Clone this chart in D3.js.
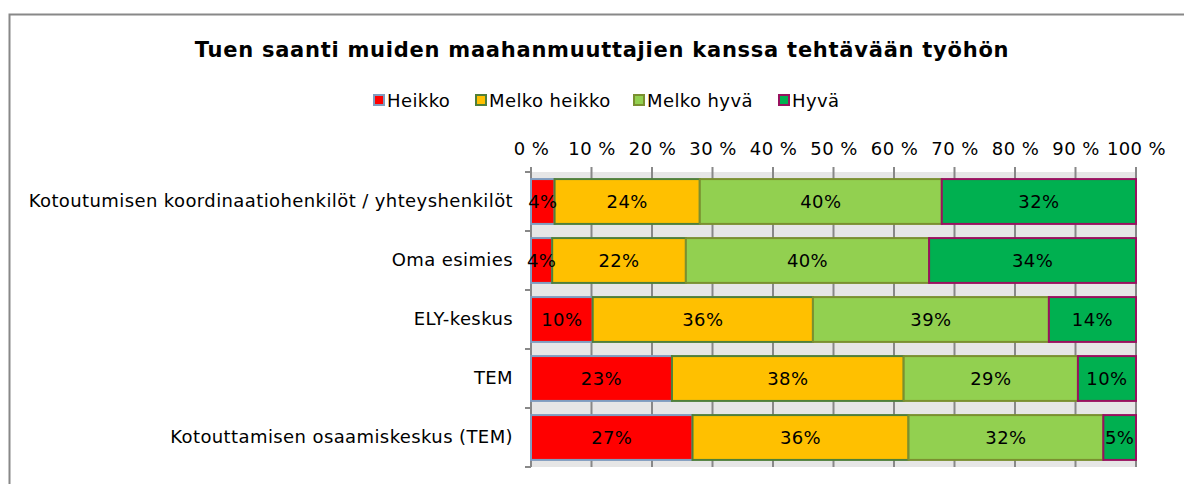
<!DOCTYPE html>
<html>
<head>
<meta charset="utf-8">
<script src="https://cdn.jsdelivr.net/npm/d3@7"></script>
<style>
  body { margin: 0; background: #fff; }
  text { font-family: "DejaVu Sans", Verdana, sans-serif; letter-spacing: 0.4px; }
</style>
</head>
<body>
<svg id="chart"></svg>
<script>
// Data
const categories = [
  "Kotoutumisen koordinaatiohenkilöt / yhteyshenkilöt",
  "Oma esimies",
  "ELY-keskus",
  "TEM",
  "Kotouttamisen osaamiskeskus (TEM)"
];
const seriesNames = ["Heikko", "Melko heikko", "Melko hyvä", "Hyvä"];
const heikko      = [3.9, 3.5, 10.2, 23.3, 26.7];
const melkoHeikko = [24.0, 22.1, 36.4, 38.3, 35.7];
const melkoHyva   = [40.0, 40.2, 39.0, 28.8, 32.2];
const hyva        = [32.1, 34.2, 14.4, 9.6, 5.4];
const xTicks = [0, 10, 20, 30, 40, 50, 60, 70, 80, 90, 100];

const fills   = ["#ff0000", "#ffc000", "#92d050", "#00b050"];
const strokes = ["#7f9cbf", "#4f7f3a", "#7a9030", "#99115f"];

const W = 1184, H = 484;
const margin = { top: 172, right: 48, bottom: 17, left: 531 };
const width = W - margin.left - margin.right;
const height = H - margin.top - margin.bottom;
const fs = 18;

const svg = d3.select("#chart").attr("width", W).attr("height", H);

// outer frame
svg.append("path")
  .attr("d", `M9.5,${H} V14.5 H${W}`)
  .attr("fill", "none")
  .attr("stroke", "#888")
  .attr("stroke-width", 2);

svg.append("text")
  .attr("x", 602).attr("y", 57)
  .attr("text-anchor", "middle")
  .attr("font-size", 21).attr("font-weight", "bold")
  .style("letter-spacing", "0.75px")
  .text("Tuen saanti muiden maahanmuuttajien kanssa tehtävään työhön");

// legend
const legendX = [374, 476, 634, 779];
const legend = svg.append("g");
seriesNames.forEach((name, i) => {
  const g = legend.append("g").attr("transform", `translate(${legendX[i]},95)`);
  g.append("rect").attr("width", 10).attr("height", 10)
    .attr("fill", fills[i]).attr("stroke", strokes[i]).attr("stroke-width", 2);
  g.append("text").attr("x", 13).attr("y", 12)
    .attr("font-size", fs).text(name);
});

const series = [heikko, melkoHeikko, melkoHyva, hyva];
const rows = categories.map((c, i) => {
  let x0 = 0;
  return series.map((s, k) => {
    const d = { cat: c, k: k, x0: x0, x1: x0 + s[i], v: s[i] };
    x0 += s[i];
    return d;
  });
});

const x = d3.scaleLinear().domain([0, 100]).range([0, width]);
const y = d3.scaleBand().domain(categories).range([0, height]).paddingInner(0.24).paddingOuter(0.12);

const plot = svg.append("g").attr("transform", `translate(${margin.left},${margin.top})`);

plot.append("rect").attr("width", width).attr("height", height).attr("fill", "#e6e6e6");

// vertical gridlines
plot.selectAll(".grid").data(xTicks).join("line")
  .attr("x1", d => x(d)).attr("x2", d => x(d))
  .attr("y1", -5).attr("y2", height)
  .attr("stroke", "#888").attr("stroke-width", 2);

// top axis labels
const xAxis = d3.axisTop(x).tickValues(xTicks).tickFormat(d => d + " %").tickSize(0).tickPadding(17);
plot.append("g").call(xAxis)
  .call(g => g.select(".domain").remove())
  .call(g => g.selectAll("text").attr("font-size", fs).attr("fill", "#000")
    .style("font-family", "'DejaVu Sans', Verdana, sans-serif"));

// left axis
const boundaries = d3.range(categories.length + 1).map(i => i * height / categories.length);
plot.append("line").attr("x1", 0).attr("x2", 0).attr("y1", 0).attr("y2", height)
  .attr("stroke", "#888").attr("stroke-width", 2);
plot.selectAll(".ytick").data(boundaries).join("line")
  .attr("x1", -6).attr("x2", 0).attr("y1", d => d).attr("y2", d => d)
  .attr("stroke", "#888").attr("stroke-width", 2);

const yAxis = d3.axisLeft(y).tickSize(0).tickPadding(18);
plot.append("g").call(yAxis)
  .call(g => g.select(".domain").remove())
  .call(g => g.selectAll("text").attr("font-size", fs).attr("fill", "#000")
    .style("font-family", "'DejaVu Sans', Verdana, sans-serif"));

// bars
const rowG = plot.selectAll(".row").data(rows).join("g")
  .attr("transform", (d, i) => `translate(0,${y(categories[i])})`);

rowG.selectAll("rect").data(d => d).join("rect")
  .attr("x", d => x(d.x0)).attr("width", d => x(d.x1) - x(d.x0))
  .attr("height", y.bandwidth())
  .attr("fill", d => fills[d.k]).attr("stroke", d => strokes[d.k]).attr("stroke-width", 2);

rowG.selectAll("text").data(d => d).join("text")
  .attr("x", d => (x(d.x0) + x(d.x1)) / 2)
  .attr("y", y.bandwidth() / 2)
  .attr("dy", "0.35em")
  .attr("text-anchor", "middle")
  .attr("font-size", fs)
  .text(d => Math.round(d.v) + "%");
</script>
</body>
</html>
